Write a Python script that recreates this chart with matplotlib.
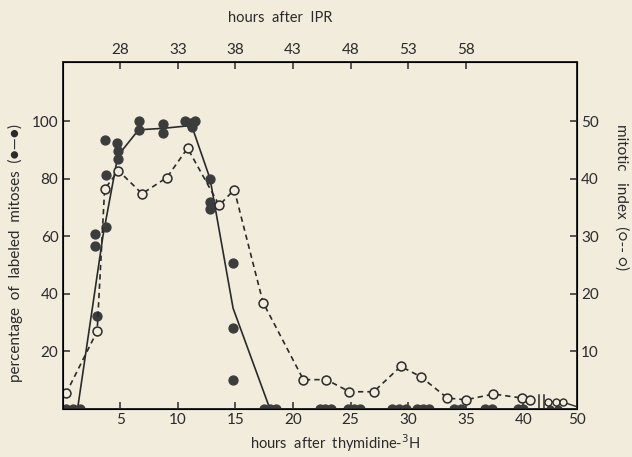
import numpy as np
import matplotlib
matplotlib.use("Agg")
import matplotlib.pyplot as plt

# ---------------- data ----------------
# percentage of labeled mitoses (filled circles), x = hours after thymidine-3H
plm_x = [0.3, 0.9, 1.5, 2.85, 2.85, 3.0, 3.7, 3.8, 3.8, 4.75, 4.8, 4.8,
         6.6, 6.6, 8.7, 8.7, 10.6, 11.1, 11.5, 11.2, 12.8, 12.8, 12.8,
         14.8, 14.8, 14.8,
         17.5, 18.0, 18.5, 22.3, 22.8, 23.3, 24.8, 25.3, 25.8, 28.6, 29.2,
         29.8, 30.8, 31.3, 31.8, 34.0, 34.6, 36.7, 37.3, 39.5, 40.0]
plm_y = [0, 0, 0, 60.7, 56.6, 32.4, 93.6, 81.2, 63.2, 92.5, 89.5, 87.0,
         100, 97, 99, 96, 100, 99.5, 100, 98, 80, 71.8, 69.5,
         50.8, 28.2, 10.2,
         0, 0, 0, 0, 0, 0, 0, 0, 0, 0, 0,
         0, 0, 0, 0, 0, 0, 0, 0, 0, 0]
# hand-drawn curve through the labeled-mitoses points
plm_curve_x = [1.3, 3.5, 4.8, 6.6, 8.7, 11.2, 12.8, 14.8, 18.0]
plm_curve_y = [0, 60, 88, 97, 97.5, 98.5, 80, 35, 0]

# mitotic index (open circles)
mi_x = [0.3, 3.0, 3.65, 4.85, 6.9, 9.05, 10.85, 13.6, 14.9, 17.4, 20.9,
        22.9, 24.9, 27.0, 29.35, 31.1, 33.4, 35.0, 37.4, 39.9, 40.6]
mi_y = [2.7, 13.5, 38.2, 41.4, 37.4, 40.2, 45.3, 35.4, 38.1, 18.5, 5.1,
        5.1, 3.0, 3.0, 7.4, 5.6, 1.9, 1.6, 2.6, 1.9, 1.5]
# points after the axis break
mi_tail_x = [46.4, 47.3, 48.2]
mi_tail_y = [1.2, 1.2, 1.2]
plm_tail_x = [46.6, 47.6]
plm_tail_y = [0, 0]

bottom_ticks = [5, 10, 15, 20, 25, 30, 35, 40, 50]
ipr_ticks = [28, 33, 38, 43, 48, 53, 58]
IPR_OFFSET = 23  # hours after IPR = hours after thymidine + 23
left_ticks = [20, 40, 60, 80, 100]
right_ticks = [10, 20, 30, 40, 50]
break_marks = [41.35, 41.8]

# ---------------- broken x scale ----------------
BRK_LO, BRK_HI, COMP = 41.9, 46.0, 0.6875


def fwd(h):
    h = np.asarray(h, dtype=float)
    return np.where(h <= BRK_LO, h,
                    np.where(h < BRK_HI, BRK_LO, BRK_LO + COMP * (h - BRK_HI)))


def inv(p):
    p = np.asarray(p, dtype=float)
    return np.where(p <= BRK_LO, p, BRK_HI + (p - BRK_LO) / COMP)


BG = "#f1ecdc"
INK = "#2a2a2a"
plt.rcParams["font.family"] = ["Lato", "DejaVu Sans"]

fig = plt.figure(figsize=(6.32, 4.57), dpi=100, facecolor=BG)
ax = fig.add_axes([0.099, 0.105, 0.814, 0.759])
ax.set_facecolor(BG)
ax.set_xscale("function", functions=(fwd, inv))
ax.set_xlim(0, 50)
ax.set_ylim(0, 120.5)

ax2 = ax.twinx()
ax2.set_ylim(0, 60.25)

# labeled mitoses
ax.plot(plm_curve_x, plm_curve_y, color=INK, lw=1.2, solid_capstyle="butt")
ax.plot(plm_x, plm_y, "o", color="#3c3c3c", ms=6.4, mec="#3c3c3c")
ax.plot(plm_tail_x, plm_tail_y, "o", color="#3c3c3c", ms=5, mec="#3c3c3c")

# mitotic index
ax2.plot(mi_x, mi_y, color=INK, lw=1.2, ls=(0, (3.2, 2.4)))
ax2.plot(mi_x, mi_y, "o", color=INK, ms=6.4, mfc=BG, mew=1.1, ls="none")
ax2.plot(mi_tail_x + [50], mi_tail_y + [0.4], color=INK, lw=1.0)
ax2.plot(mi_tail_x, mi_tail_y, "o", color=INK, ms=5, mfc=BG, mew=1.0, ls="none")

# axis break marks
for b in break_marks:
    ax.plot([b, b], [0, 5], color=INK, lw=1.1, clip_on=False)

for a in (ax, ax2):
    for s in a.spines.values():
        s.set_linewidth(1.4)
        s.set_color(INK)

ax.set_xticks(bottom_ticks)
ax.set_xticklabels([str(t) for t in bottom_ticks])
ax.set_yticks(left_ticks)
ax.set_yticklabels([str(t) for t in left_ticks])
ax2.set_yticks(right_ticks)
ax2.set_yticklabels([str(t) for t in right_ticks])
ax.tick_params(axis="both", direction="in", length=5, width=1.1,
               colors=INK, labelsize=11, pad=3)
ax2.tick_params(axis="y", direction="in", length=5, width=1.1,
                colors=INK, labelsize=11, pad=3)
ax.xaxis.set_minor_locator(matplotlib.ticker.NullLocator())

# top axis: hours after IPR
axt = ax.twiny()
axt.set_xscale("function", functions=(fwd, inv))
axt.set_xlim(0, 50)
axt.set_xticks([t - IPR_OFFSET for t in ipr_ticks])
axt.set_xticklabels([str(t) for t in ipr_ticks])
axt.tick_params(axis="x", direction="in", length=5, width=1.1,
                colors=INK, labelsize=11, pad=4)
axt.xaxis.set_minor_locator(matplotlib.ticker.NullLocator())
axt.set_xlabel("hours  after  IPR", fontsize=10.5, color=INK)
axt.xaxis.set_label_coords(0.423, 1.115)

ax.set_xlabel("hours  after  thymidine-$^3$H", fontsize=10.5, color=INK)
ax.xaxis.set_label_coords(0.53, -0.068)
ax.set_ylabel("percentage  of  labeled  mitoses  (\u25cf\u2014\u25cf)",
              fontsize=11, color=INK)
ax.yaxis.set_label_coords(-0.077, 0.45)
ax2.set_ylabel("mitotic   index  (\u25cb-- \u25cb)", fontsize=11,
               color=INK, rotation=-90, va="bottom")
ax2.yaxis.set_label_coords(1.073, 0.61)

fig.savefig("out.png", dpi=100, facecolor=BG)
